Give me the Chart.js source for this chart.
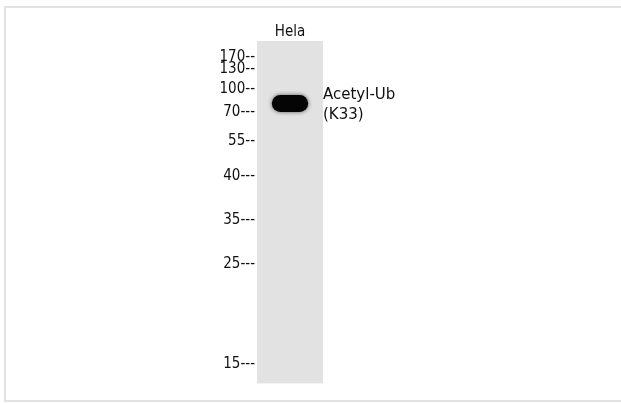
<!DOCTYPE html>
<html>
<head>
<meta charset="utf-8">
<script src="https://cdn.jsdelivr.net/npm/chart.js@4/dist/chart.umd.min.js"></script>
<style>
  html, body { margin: 0; padding: 0; background: #fff; }
  #wrap { position: relative; width: 621px; height: 403px; overflow: hidden; }
  #frame { position: absolute; left: 4px; top: 6px; width: 700px; height: 392px; border: 2px solid #e2e2e2; }
  canvas { position: absolute; left: 0; top: 0; }
</style>
</head>
<body>
<div id="wrap">
  <div id="frame"></div>
  <canvas id="blot" width="621" height="403"></canvas>
</div>
<script>
// lane and marker data (migration measured down from the top of the lane)
const laneLabels = ["Hela"];
const markerKDa = ["170", "130", "100", "70", "55", "40", "35", "25", "15"];
const markerDashes = ["--", "--", "--", "---", "--", "---", "---", "---", "---"];
const markerMigration = [16, 28, 48, 71, 100, 135, 179, 223, 324];
const laneRange = [0, 343];
const bandRange = [54, 71];
const bandLabel = ["Acetyl-Ub", "(K33)"];
const bandLabelAt = 64;

const FONT = "'DejaVu Sans', sans-serif";
const NARROW = "'DejaVu Sans Condensed', 'DejaVu Sans', sans-serif";

// soft edges on the band
const bandBlur = {
  id: "bandBlur",
  beforeDatasetDraw(chart, args) {
    if (args.index === 1) {
      chart.ctx.save();
      chart.ctx.shadowColor = "rgba(0,0,0,0.6)";
      chart.ctx.shadowBlur = 4;
    }
  },
  afterDatasetDraw(chart, args) {
    if (args.index === 1) chart.ctx.restore();
  },
};

new Chart(document.getElementById("blot"), {
  type: "bar",
  data: {
    labels: laneLabels,
    datasets: [
      {
        data: [laneRange],
        backgroundColor: "#e2e2e2",
        barPercentage: 1,
        categoryPercentage: 1,
        grouped: false,
        order: 2,
      },
      {
        data: [bandRange],
        backgroundColor: "#050505",
        barPercentage: 0.55,
        categoryPercentage: 1,
        borderRadius: 20,
        borderSkipped: false,
        grouped: false,
        order: 1,
      },
    ],
  },
  plugins: [bandBlur],
  options: {
    responsive: false,
    animation: false,
    events: [],
    layout: { padding: { top: 0, bottom: 18, left: 0, right: 0 } },
    plugins: { legend: { display: false }, tooltip: { enabled: false } },
    scales: {
      x: {
        position: "top",
        grid: { display: false, drawTicks: false },
        border: { display: false },
        ticks: { color: "#111", padding: 0, font: { family: NARROW, size: 15 } },
        afterFit: (s) => { s.height = 41; },
      },
      y: {
        position: "left",
        reverse: true,
        min: laneRange[0],
        max: laneRange[1],
        grid: { display: false, drawTicks: false },
        border: { display: false },
        afterBuildTicks: (s) => { s.ticks = markerMigration.map((v) => ({ value: v })); },
        ticks: {
          autoSkip: false,
          color: "#111",
          padding: 2,
          font: { family: NARROW, size: 15 },
          callback: (v, i) => markerKDa[i] + markerDashes[i],
        },
        afterFit: (s) => { s.width = 257; },
      },
      y2: {
        position: "right",
        reverse: true,
        min: laneRange[0],
        max: laneRange[1],
        grid: { display: false, drawTicks: false },
        border: { display: false },
        afterBuildTicks: (s) => { s.ticks = [{ value: bandLabelAt }]; },
        ticks: {
          autoSkip: false,
          color: "#111",
          padding: 0,
          font: { family: FONT, size: 15, lineHeight: 1.3 },
          callback: () => bandLabel,
        },
        afterFit: (s) => { s.width = 298; },
      },
    },
  },
});
</script>
</body>
</html>
